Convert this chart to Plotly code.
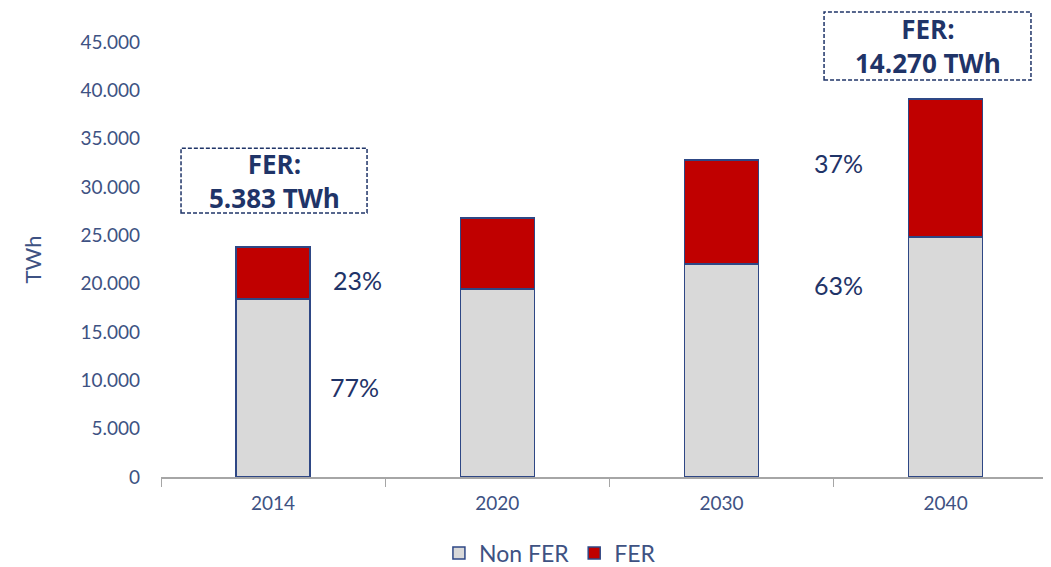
import plotly.graph_objects as go

years = ["2014", "2020", "2030", "2040"]
non_fer = [18400, 19450, 22030, 24830]
fer = [5383, 7340, 10760, 14270]
y_ticks = [0, 5000, 10000, 15000, 20000, 25000, 30000, 35000, 40000, 45000]
y_tick_labels = ["0", "5.000", "10.000", "15.000", "20.000", "25.000", "30.000", "35.000", "40.000", "45.000"]
pct_labels = ["23%", "77%", "37%", "63%"]
box_labels = ["FER:<br>5.383 TWh", "FER:<br>14.270 TWh"]

NAVY = "#1F3468"
TICK = "#3E5283"
OUTLINE = "#2E4785"

fig = go.Figure()
fig.add_trace(go.Bar(x=years, y=non_fer, name="Non FER", marker=dict(color="#D9D9D9", line=dict(color=OUTLINE, width=1.5)), width=0.33))
fig.add_trace(go.Bar(x=years, y=fer, name="FER", marker=dict(color="#C00000", line=dict(color=OUTLINE, width=1.5)), width=0.33))

pct_pos = [(0.375, 20400), (0.365, 9300), (2.52, 32500), (2.52, 19900)]
for lab, (px, py) in zip(pct_labels, pct_pos):
    fig.add_annotation(x=px, y=py, xref="x", yref="y", text=lab, showarrow=False,
                       xanchor="center", yanchor="middle",
                       font=dict(family="Lato", size=25, color=NAVY))

boxes = [(0.0225, 0.2315, 0.607, 0.756), (0.745, 0.9775, 0.9126, 1.069)]
for lab, (x0, x1, y0, y1) in zip(box_labels, boxes):
    fig.add_shape(type="rect", xref="paper", yref="paper", x0=x0, x1=x1, y0=y0, y1=y1,
                  line=dict(color=NAVY, width=1.5, dash="4px,2px"), fillcolor="rgba(0,0,0,0)")
    fig.add_annotation(x=(x0 + x1) / 2, y=(y0 + y1) / 2, xref="paper", yref="paper", text="<b>" + lab + "</b>",
                       xanchor="center", yanchor="middle",
                       showarrow=False, font=dict(family="Open Sans", size=26, color=NAVY), align="center")

fig.update_layout(
    barmode="stack",
    width=1043, height=559,
    margin=dict(l=153, r=0, t=34, b=90),
    plot_bgcolor="white", paper_bgcolor="white",
    font=dict(family="Lato", color=TICK),
    showlegend=True,
    legend=dict(orientation="h", x=0.437, xanchor="center", xref="paper",
                y=0.025, yanchor="middle", yref="container", traceorder="normal",
                font=dict(family="Lato", size=23, color=TICK)),
    xaxis=dict(showline=True, linecolor="#A6A6A6", linewidth=1.5, ticks="outside", tickson="boundaries",
               ticklen=8, tickcolor="#A6A6A6", tickfont=dict(family="Lato", size=19, color=TICK),
               ticklabelstandoff=8,
               showgrid=False, range=[-0.5, 3.47], automargin=False),
    yaxis=dict(range=[0, 45000], tickvals=y_ticks, ticktext=y_tick_labels, showgrid=False, zeroline=False,
               showline=False, tickfont=dict(family="Lato", size=19, color=TICK), ticklabelstandoff=20,
               automargin=False,
               title=dict(text="TWh", font=dict(family="Lato", size=22, color=TICK), standoff=32)),
)

fig.write_html("out.html")
